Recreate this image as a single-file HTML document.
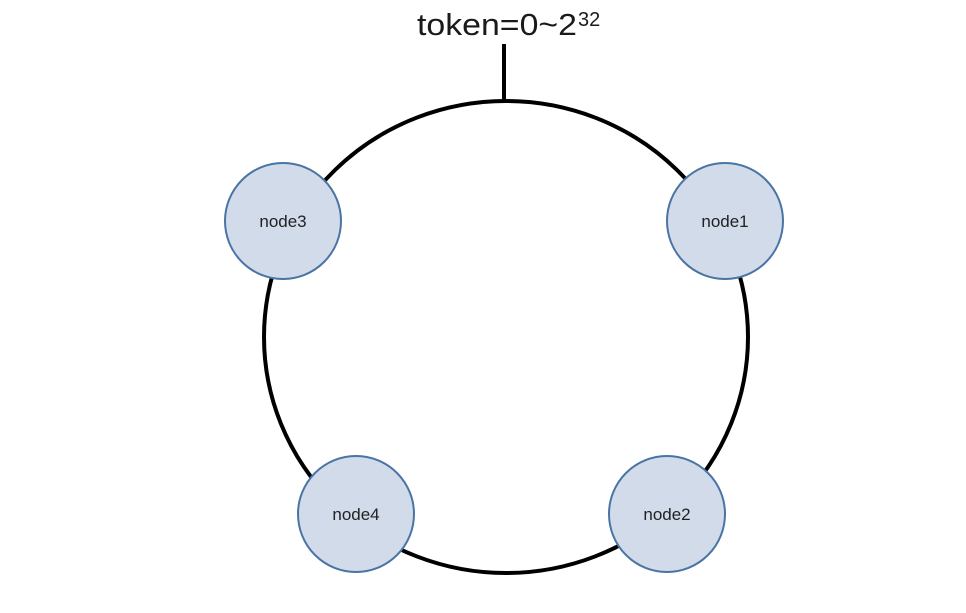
<!DOCTYPE html>
<html><head><style>body{margin:0;background:#fff}</style></head><body>
<svg width="966" height="613" viewBox="0 0 966 613" xmlns="http://www.w3.org/2000/svg" style="display:block">
<text x="417" y="35" font-family="Liberation Sans, sans-serif" font-size="31" fill="#1a1a1a" textLength="160" lengthAdjust="spacingAndGlyphs">token=0~2</text>
<text x="578" y="26" font-family="Liberation Sans, sans-serif" font-size="20" fill="#1a1a1a">32</text>
<line x1="504" y1="44" x2="504" y2="102" stroke="#000" stroke-width="4"/>
<ellipse cx="506" cy="337" rx="242" ry="236" fill="none" stroke="#000" stroke-width="4"/>
<g fill="#d1dbea" stroke="#4a74a4" stroke-width="2">
<circle cx="283" cy="221" r="58"/>
<circle cx="725" cy="221" r="58"/>
<circle cx="356" cy="514" r="58"/>
<circle cx="667" cy="514" r="58"/>
</g>
<g font-family="Liberation Sans, sans-serif" font-size="17" fill="#222" text-anchor="middle">
<text x="283" y="227">node3</text>
<text x="725" y="227">node1</text>
<text x="356" y="520">node4</text>
<text x="667" y="520">node2</text>
</g>
</svg>
</body></html>
